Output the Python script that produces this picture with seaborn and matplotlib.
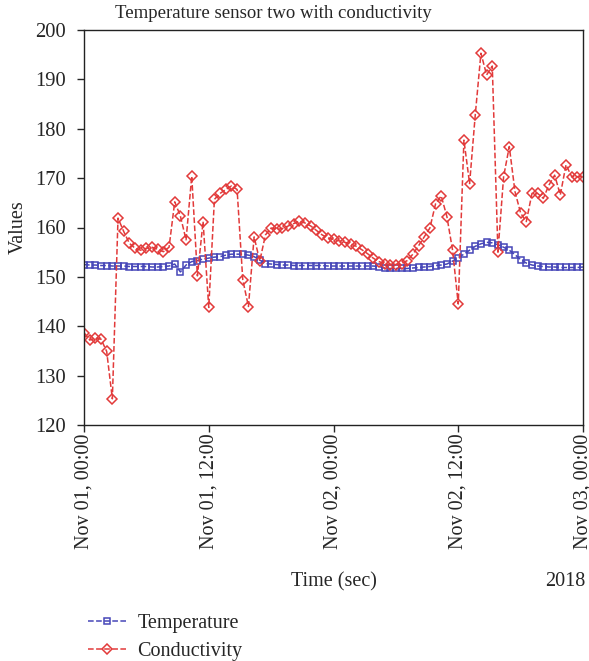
import matplotlib
matplotlib.use("Agg")
import matplotlib.pyplot as plt
import matplotlib.dates as mdates
import numpy as np
import pandas as pd
import seaborn as sns

# ---- data ----
temperature = [
    152.5, 152.4, 152.4, 152.3, 152.3, 152.2, 152.2, 152.2, 152.1, 152.1,
    152.1, 152.1, 152.0, 152.0, 152.1, 152.2, 152.6, 151.0, 152.4, 153.1,
    153.3, 153.6, 153.8, 154.0, 154.1, 154.4, 154.6, 154.6, 154.6, 154.4,
    154.1, 153.4, 152.7, 152.6, 152.5, 152.4, 152.4, 152.3, 152.3, 152.3,
    152.3, 152.3, 152.3, 152.2, 152.2, 152.2, 152.2, 152.2, 152.2, 152.2,
    152.2, 152.2, 152.1, 151.8, 151.7, 151.7, 151.7, 151.7, 151.8, 151.9,
    152.0, 152.1, 152.3, 152.4, 152.6, 153.2, 153.9, 154.6, 155.4, 156.2,
    156.7, 157.0, 156.9, 156.5, 156.0, 155.4, 154.5, 153.5, 152.8, 152.4,
    152.2, 152.1, 152.0, 152.0, 151.9, 151.9, 151.9, 151.9, 152.0,
]
conductivity = [
    138.7, 137.2, 137.6, 137.4, 134.9, 125.3, 161.9, 159.2, 156.8, 155.8,
    155.4, 155.8, 156.0, 155.6, 155.1, 156.0, 165.2, 162.3, 157.5, 170.4,
    150.2, 161.2, 143.8, 165.7, 166.9, 167.7, 168.4, 167.7, 149.4, 144.0,
    158.1, 153.2, 158.5, 159.9, 159.6, 159.8, 160.3, 160.8, 161.3, 160.9,
    160.3, 159.4, 158.5, 157.9, 157.6, 157.3, 157.0, 156.7, 156.2, 155.5,
    154.7, 153.8, 153.1, 152.7, 152.5, 152.5, 152.7, 153.3, 154.6, 156.3,
    158.1, 159.9, 164.8, 166.4, 162.2, 155.4, 144.5, 177.7, 168.9, 182.8,
    195.3, 190.9, 192.7, 155.0, 170.3, 176.4, 167.3, 162.9, 161.2, 166.9,
    166.9, 165.9, 168.6, 170.6, 166.6, 172.7, 170.3, 170.3, 170.3,
]
start_time = "2018-11-01 00:00"
end_time = "2018-11-03 00:00"
y_ticks = [120, 130, 140, 150, 160, 170, 180, 190, 200]
series_names = ["Temperature", "Conductivity"]

times = pd.date_range(start_time, end_time, periods=len(conductivity))
df = pd.DataFrame({"time": times, "Temperature": temperature, "Conductivity": conductivity})

sns.set_theme(style="white")
plt.rcParams["font.family"] = ["Liberation Serif", "DejaVu Serif"]
plt.rcParams["font.size"] = 14

BLUE = "#4646b8"
RED = "#e23a3a"

fig = plt.figure(figsize=(5.89, 6.61), dpi=100)
ax = fig.add_axes([84 / 589, 1 - 425 / 661, (583 - 84) / 589, (425 - 30) / 661])

sns.lineplot(data=df, x="time", y="Temperature", ax=ax, color=BLUE, linestyle="--",
             linewidth=1.1, marker="s", markersize=4.8, markerfacecolor="none",
             markeredgecolor=BLUE, markeredgewidth=1.1, label=series_names[0], legend=False)
sns.lineplot(data=df, x="time", y="Conductivity", ax=ax, color=RED, linestyle="--",
             linewidth=1.1, marker="D", markersize=5.5, markerfacecolor="none",
             markeredgecolor=RED, markeredgewidth=1.1, label=series_names[1], legend=False)

ax.set_xlim(pd.Timestamp(start_time), pd.Timestamp(end_time))
ax.set_ylim(120, 200)
ax.set_yticks(y_ticks)
ax.xaxis.set_major_locator(mdates.HourLocator(byhour=[0, 12]))
ax.xaxis.set_major_formatter(mdates.DateFormatter("%b %d, %H:%M"))
ax.tick_params(axis="x", labelrotation=90, labelsize=14.5, length=5, width=1, direction="out", bottom=True, pad=1)
ax.tick_params(axis="y", labelsize=14.8, length=5, width=1, direction="out", left=True, pad=8)
for lab in ax.get_xticklabels():
    lab.set_va("top")
for s in ax.spines.values():
    s.set_color("#222222")
    s.set_linewidth(1.0)
ax.set_xlabel("")
ax.set_ylabel("Values", fontsize=14.5, labelpad=5)

fig.text(273 / 589, 1 - 14 / 661, "Temperature sensor two with conductivity",
         ha="center", va="center", fontsize=13.5)
fig.text(334 / 589, 1 - 582 / 661, "Time (sec)", ha="center", va="center", fontsize=14.5)
fig.text(565 / 589, 1 - 582 / 661, "2018", ha="center", va="center", fontsize=14.5)

handles, labels = ax.get_legend_handles_labels()
fig.legend(handles, labels, loc="upper left", bbox_to_anchor=(80 / 589, 1 - 606 / 661),
           frameon=False, fontsize=14.5, handlelength=1.9, handletextpad=0.55,
           labelspacing=0.45, borderaxespad=0)

fig.savefig("out.png", dpi=100)
